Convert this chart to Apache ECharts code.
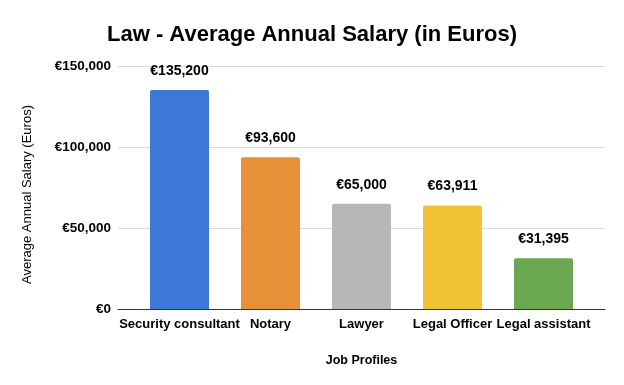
<!DOCTYPE html>
<html><head><meta charset="utf-8">
<script src="https://cdn.jsdelivr.net/npm/echarts@6/dist/echarts.min.js"></script>
<style>html,body{margin:0;padding:0;background:#fff}#c{width:624px;height:385px}</style>
</head><body><div id="c"></div>
<script>
const categories = ["Security consultant", "Notary", "Lawyer", "Legal Officer", "Legal assistant"];
const salaries = [135200, 93600, 65000, 63911, 31395];
const barColors = ["#3c78d8", "#e69138", "#b7b7b7", "#f1c232", "#6aa84f"];
const yTicks = [0, 50000, 100000, 150000];
const titleText = "Law - Average Annual Salary (in Euros)";
const yName = "Average Annual Salary (Euros)";
const xName = "Job Profiles";

const FONT = "Liberation Sans";
const fmt = v => "€" + v.toLocaleString("en-US");
const chart = echarts.init(document.getElementById("c"));
chart.setOption({
  animation: false,
  title: { text: titleText, left: "center", top: 19,
    textStyle: { fontFamily: FONT, fontWeight: "bold", fontSize: 22, color: "#000" } },
  grid: [
    { left: 118, right: 19, top: 66, bottom: 76 },
    { left: 134, right: 35, top: 66, bottom: 76 }
  ],
  xAxis: [
    { gridIndex: 0, type: "category", data: categories,
      axisLine: { lineStyle: { color: "#333", width: 1 } }, axisTick: { show: false },
      axisLabel: { show: false },
      name: xName, nameLocation: "middle", nameGap: 45,
      nameTextStyle: { fontFamily: FONT, fontWeight: "bold", fontSize: 12.5, color: "#000" } },
    { gridIndex: 1, type: "category", data: categories,
      axisLine: { show: false }, axisTick: { show: false },
      axisLabel: { interval: 0, margin: 9, fontFamily: FONT, fontWeight: "bold", fontSize: 13, color: "#000" } }
  ],
  yAxis: [
    { gridIndex: 0, type: "value", min: 0, max: yTicks[yTicks.length-1], interval: yTicks[1]-yTicks[0],
      axisLine: { show: false }, axisTick: { show: false },
      splitLine: { lineStyle: { color: "#d9d9d9", width: 1 } },
      axisLabel: { formatter: fmt, margin: 7, fontFamily: FONT, fontWeight: "bold", fontSize: 13.5, color: "#000" },
      name: yName, nameLocation: "middle", nameGap: 84,
      nameTextStyle: { fontFamily: FONT, fontSize: 13, color: "#000", padding: [0, 14, 0, 0] } },
    { gridIndex: 1, type: "value", min: 0, max: yTicks[yTicks.length-1], interval: yTicks[1]-yTicks[0],
      show: false, splitLine: { show: false } }
  ],
  series: [{
    type: "bar", xAxisIndex: 1, yAxisIndex: 1, barWidth: 59,
    data: salaries.map((v, i) => ({ value: v, itemStyle: { color: barColors[i], borderRadius: [2,2,0,0] } })),
    label: { show: true, position: "top", distance: 12, formatter: p => fmt(p.value),
      fontFamily: FONT, fontWeight: "bold", fontSize: 14, color: "#000" }
  }]
});
</script></body></html>
